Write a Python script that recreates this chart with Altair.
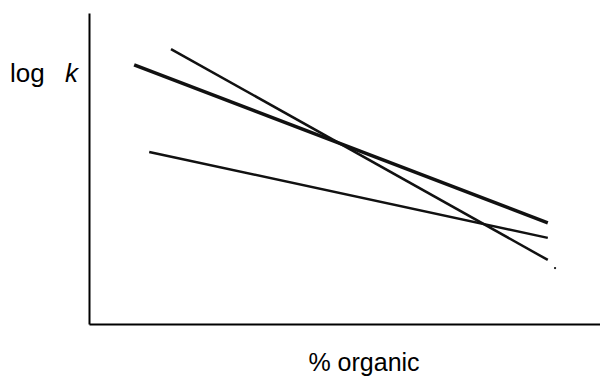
import altair as alt
import pandas as pd

# Three straight lines (log k vs % organic), endpoints
series = ["A", "A", "B", "B", "C", "C"]
organic = [8.7, 88.4, 15.8, 88.4, 11.6, 88.4]
logk = [83.3, 32.5, 88.4, 20.6, 55.3, 27.7]
widths = {"A": 3.5, "B": 2.5, "C": 2.5}

dot_x = [89.8]
dot_y = [18.0]

df = pd.DataFrame({"series": series, "organic": organic, "logk": logk})
dots = pd.DataFrame({"organic": dot_x, "logk": dot_y})

xs = alt.Scale(domain=[0, 98.46], nice=False, zero=False)
ys = alt.Scale(domain=[0, 100], nice=False, zero=False)
ax = dict(domainColor="black", domainWidth=2, ticks=False, labels=False, grid=False, title=None)

layers = []
for s, w in widths.items():
    layers.append(
        alt.Chart(df[df.series == s]).mark_line(color="#111111", strokeWidth=w).encode(
            x=alt.X("organic:Q", scale=xs, axis=alt.Axis(**ax)),
            y=alt.Y("logk:Q", scale=ys, axis=alt.Axis(**ax)),
        )
    )

dot = alt.Chart(dots).mark_circle(color="#111111", size=5, opacity=1).encode(
    x=alt.X("organic:Q", scale=xs), y=alt.Y("logk:Q", scale=ys)
)

font = "Liberation Sans"
lab_log = alt.Chart(pd.DataFrame({"t": ["log"]})).mark_text(
    font=font, fontSize=26, align="left", baseline="alphabetic", color="black"
).encode(text="t:N", x=alt.value(-79), y=alt.value(69))
lab_k = alt.Chart(pd.DataFrame({"t": ["k"]})).mark_text(
    font=font, fontSize=26, fontStyle="italic", align="left", baseline="alphabetic", color="black"
).encode(text="t:N", x=alt.value(-24), y=alt.value(69))
lab_x = alt.Chart(pd.DataFrame({"t": ["% organic"]})).mark_text(
    font=font, fontSize=25, align="center", baseline="alphabetic", color="black"
).encode(text="t:N", x=alt.value(275), y=alt.value(358))

chart = alt.layer(*layers, dot, lab_log, lab_k, lab_x).properties(
    width=511, height=311,
    autosize=alt.AutoSizeParams(type="none"),
    padding={"left": 81, "top": 5, "right": 0, "bottom": 54},
).configure_view(stroke=None)

chart.save("out.html", embed_options={"renderer": "svg", "actions": False})
